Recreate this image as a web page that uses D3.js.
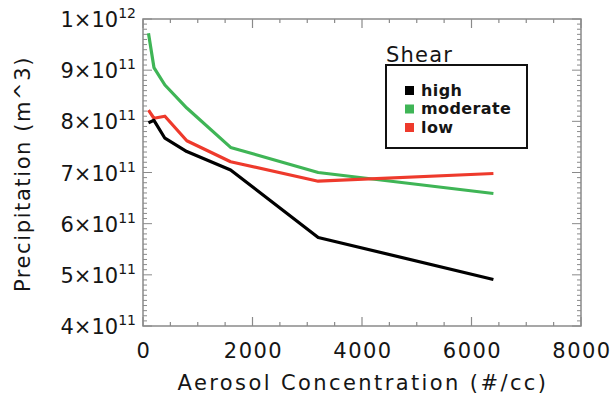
<!DOCTYPE html>
<html>
<head>
<meta charset="utf-8">
<script src="https://cdn.jsdelivr.net/npm/d3@7"></script>
<style>
  html, body { margin: 0; padding: 0; background: #fff; }
  svg { display: block; }
  text { font-family: "DejaVu Sans", "Open Sans", sans-serif; fill: #151515; }
</style>
</head>
<body>
<svg id="chart" width="613" height="399"></svg>
<script>
// Aerosol concentration (#/cc)
const aerosol = [100, 200, 400, 800, 1600, 3200, 6400];
// Precipitation (m^3), one series per shear regime
const highShear = [7.97e11, 8.02e11, 7.67e11, 7.41e11, 7.05e11, 5.73e11, 4.91e11];
const moderateShear = [9.72e11, 9.05e11, 8.71e11, 8.26e11, 7.49e11, 7.0e11, 6.59e11];
const lowShear = [8.22e11, 8.06e11, 8.10e11, 7.62e11, 7.21e11, 6.83e11, 6.98e11];
const seriesNames = ["high", "moderate", "low"];
const seriesColors = ["#000000", "#3fb556", "#ee3a2c"];
const xTicks = [0, 2000, 4000, 6000, 8000];
const yTicks = [4e11, 5e11, 6e11, 7e11, 8e11, 9e11, 1e12];
const yTickMantissa = ["4", "5", "6", "7", "8", "9", "1"];
const yTickExponent = ["11", "11", "11", "11", "11", "11", "12"];

const svg = d3.select("#chart");
const plotLeft = 143, plotRight = 581, plotTop = 19, plotBottom = 326;

const x = d3.scaleLinear().domain([0, 8000]).range([plotLeft, plotRight]);
const y = d3.scaleLinear().domain([4e11, 1e12]).range([plotBottom, plotTop]);

const axisColor = "#8a8a8a";

// Frame with ticks on all four sides (pointing inward)
const g = svg.append("g");
g.append("rect")
  .attr("x", plotLeft).attr("y", plotTop)
  .attr("width", plotRight - plotLeft).attr("height", plotBottom - plotTop)
  .attr("fill", "none").attr("stroke", axisColor).attr("stroke-width", 1.5);

const xMinor = d3.range(0, 8001, 500);
xMinor.forEach(v => {
  const major = v % 2000 === 0;
  const len = major ? 9 : 4;
  const px = x(v);
  g.append("line").attr("x1", px).attr("x2", px).attr("y1", plotBottom).attr("y2", plotBottom - len)
    .attr("stroke", axisColor).attr("stroke-width", 1.2);
  g.append("line").attr("x1", px).attr("x2", px).attr("y1", plotTop).attr("y2", plotTop + len)
    .attr("stroke", axisColor).attr("stroke-width", 1.2);
});

const yMinor = d3.range(40, 101, 1).map(d => d * 1e10);
yMinor.forEach((v, i) => {
  const major = i % 10 === 0;
  const len = major ? 9 : 4;
  const py = y(v);
  g.append("line").attr("x1", plotLeft).attr("x2", plotLeft + len).attr("y1", py).attr("y2", py)
    .attr("stroke", axisColor).attr("stroke-width", 1);
  g.append("line").attr("x1", plotRight).attr("x2", plotRight - len).attr("y1", py).attr("y2", py)
    .attr("stroke", axisColor).attr("stroke-width", 1);
});

// X tick labels
svg.append("g").selectAll("text").data(xTicks).join("text")
  .attr("x", d => x(d) + 1).attr("y", 358)
  .attr("text-anchor", "middle")
  .attr("font-size", 21)
  .attr("letter-spacing", 1.5)
  .text(d => d);

// Y tick labels in scientific notation
const yl = svg.append("g").selectAll("text").data(yTicks).join("text")
  .attr("x", 136).attr("y", d => y(d) + 8)
  .attr("text-anchor", "end")
  .attr("font-size", 21);
yl.append("tspan").text((d, i) => yTickMantissa[i] + "×10");
yl.append("tspan").attr("font-size", 14).attr("dy", -9).text((d, i) => yTickExponent[i]);

// Axis titles
svg.append("text")
  .attr("x", 363).attr("y", 390)
  .attr("text-anchor", "middle").attr("font-size", 21)
  .attr("letter-spacing", 2.4)
  .text("Aerosol Concentration (#/cc)");
svg.append("text")
  .attr("transform", "translate(30,174) rotate(-90)")
  .attr("text-anchor", "middle").attr("font-size", 21)
  .attr("letter-spacing", 1.6)
  .text("Precipitation (m^3)");

// Series lines
const allSeries = [highShear, moderateShear, lowShear];
const line = d3.line().x((d, i) => x(aerosol[i])).y(d => y(d));
// draw order: moderate, low, high so black sits on top
[1, 2, 0].forEach(k => {
  svg.append("path")
    .datum(allSeries[k])
    .attr("d", line)
    .attr("fill", "none")
    .attr("stroke", seriesColors[k])
    .attr("stroke-width", 3.2)
    .attr("stroke-linejoin", "round");
});

// Legend
const lg = svg.append("g");
lg.append("text").attr("x", 386).attr("y", 62).attr("font-size", 21)
  .attr("letter-spacing", 1.2).text("Shear");
lg.append("rect").attr("x", 386).attr("y", 65).attr("width", 141).attr("height", 83)
  .attr("fill", "#fff").attr("stroke", "#111").attr("stroke-width", 2);
seriesNames.forEach((name, i) => {
  const cy = 90 + i * 18.5;
  lg.append("rect").attr("x", 405).attr("y", cy - 4).attr("width", 9).attr("height", 9)
    .attr("fill", seriesColors[i]);
  lg.append("text").attr("x", 421).attr("y", cy + 5.5).attr("font-size", 16)
    .attr("font-weight", "bold").attr("letter-spacing", 0.4).text(name);
});
</script>
</body>
</html>
